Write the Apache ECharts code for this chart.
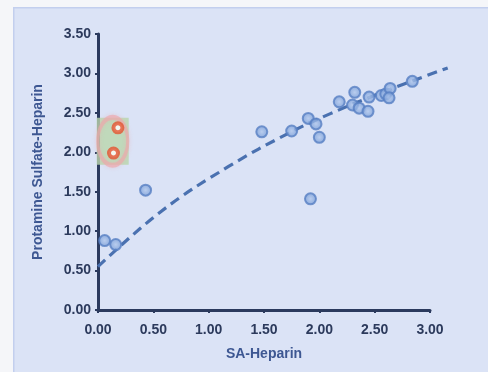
<!DOCTYPE html>
<html>
<head>
<meta charset="utf-8">
<script src="https://cdn.jsdelivr.net/npm/echarts@6/dist/echarts.min.js"></script>
<style>
html,body{margin:0;padding:0;background:#f5f6f9;}
#c{width:488px;height:372px;}
</style>
</head>
<body>
<div id="c"></div>
<script>
// Axis ticks
const xTicks = [0, 0.5, 1, 1.5, 2, 2.5, 3];
const yTicks = [0, 0.5, 1, 1.5, 2, 2.5, 3, 3.5];

// Blue data points [SA-Heparin, Protamine Sulfate-Heparin]
const bluePoints = [
  [0.06, 0.88], [0.16, 0.83], [0.43, 1.52],
  [1.48, 2.26], [1.75, 2.27], [1.90, 2.43], [1.97, 2.36], [2.00, 2.19],
  [1.92, 1.41], [2.18, 2.64], [2.32, 2.76], [2.30, 2.60], [2.36, 2.56],
  [2.45, 2.70], [2.44, 2.52], [2.56, 2.72], [2.60, 2.74], [2.64, 2.81],
  [2.63, 2.69], [2.84, 2.90]
];

// Highlighted (red) points
const redPoints = [[0.18, 2.31], [0.14, 1.99]];

// Trend line points (extends past the x axis end)
const trendPoints = [
  [0.00, 0.55], [0.57, 1.25], [1.18, 1.82], [1.72, 2.24],
  [2.10, 2.49], [2.55, 2.75], [3.16, 3.07]
];
const trendXMax = 3.2;

// Annotation centre (green box + pink ellipse)
const highlightCenter = [[0.133, 2.14]];

const chart = echarts.init(document.getElementById('c'), null, {renderer: 'canvas'});
const labelColor = '#2c3a5c';
const nameColor = '#3d5792';
const axisColor = '#2b3a5e';
const font = 'Liberation Sans, Arial, sans-serif';

const plotLeft = 98, plotTop = 34, plotBottom = 62, plotRight = 58;
const unitPx = (488 - plotLeft - plotRight) / xTicks[xTicks.length - 1];

chart.setOption({
  animation: false,
  backgroundColor: '#f5f6f9',
  graphic: [{
    type: 'rect',
    left: 13, top: 7,
    shape: {width: 480, height: 370},
    style: {fill: '#dbe3f6', stroke: '#c3cfee', lineWidth: 1.5},
    z: -10
  }],
  grid: [
    {left: plotLeft, right: plotRight, top: plotTop, bottom: plotBottom},
    {left: plotLeft, right: 488 - plotLeft - unitPx * trendXMax, top: plotTop, bottom: plotBottom}
  ],
  xAxis: [{
    type: 'value', gridIndex: 0, min: xTicks[0], max: xTicks[xTicks.length - 1], interval: 0.5,
    name: 'SA-Heparin', nameLocation: 'middle', nameGap: 37,
    nameTextStyle: {color: nameColor, fontFamily: font, fontWeight: 'bold', fontSize: 14},
    axisLine: {lineStyle: {color: axisColor, width: 3}},
    axisTick: {show: true, length: 3, lineStyle: {color: axisColor, width: 2}},
    axisLabel: {color: labelColor, fontFamily: font, fontWeight: 'bold', fontSize: 14, margin: 13,
      formatter: v => v.toFixed(2)},
    splitLine: {show: false}
  }, {
    type: 'value', gridIndex: 1, min: 0, max: trendXMax, show: false
  }],
  yAxis: [{
    type: 'value', gridIndex: 0, min: yTicks[0], max: yTicks[yTicks.length - 1], interval: 0.5,
    name: 'Protamine Sulfate-Heparin', nameLocation: 'middle', nameGap: 53,
    nameTextStyle: {color: nameColor, fontFamily: font, fontWeight: 'bold', fontSize: 14},
    axisLine: {show: true, lineStyle: {color: axisColor, width: 3}},
    axisTick: {show: true, length: 3, lineStyle: {color: axisColor, width: 2}},
    axisLabel: {color: labelColor, fontFamily: font, fontWeight: 'bold', fontSize: 14, margin: 7,
      formatter: v => v.toFixed(2)},
    splitLine: {show: false}
  }, {
    type: 'value', gridIndex: 1, min: yTicks[0], max: yTicks[yTicks.length - 1], show: false
  }],
  series: [
    {
      type: 'scatter', data: highlightCenter, symbol: 'rect', symbolSize: [32, 47],
      itemStyle: {color: '#b9d6ac'}, z: 1, silent: true
    },
    {
      type: 'scatter', data: highlightCenter, symbol: 'circle', symbolSize: [30, 48],
      itemStyle: {color: 'rgba(0,0,0,0)', borderColor: 'rgba(238,166,170,0.8)', borderWidth: 4,
        shadowBlur: 4, shadowColor: 'rgba(238,166,170,0.6)'}, z: 2, silent: true
    },
    {
      type: 'line', xAxisIndex: 1, yAxisIndex: 1, data: trendPoints, smooth: 0.4,
      showSymbol: false, symbol: 'none', clip: false,
      lineStyle: {color: '#4a71b0', width: 3.2, type: [10, 6]}, z: 3
    },
    {
      type: 'scatter', data: bluePoints, symbolSize: 11,
      itemStyle: {
        color: {type: 'radial', x: 0.5, y: 0.5, r: 0.5, colorStops: [
          {offset: 0, color: '#b0c7ec'}, {offset: 1, color: '#7399d5'}]},
        borderColor: '#5780c3', borderWidth: 2
      }, z: 4
    },
    {
      type: 'scatter', data: redPoints, symbolSize: 9,
      itemStyle: {color: '#ffffff', borderColor: '#e4532f', borderWidth: 4}, z: 5
    }
  ]
});
</script>
</body>
</html>
